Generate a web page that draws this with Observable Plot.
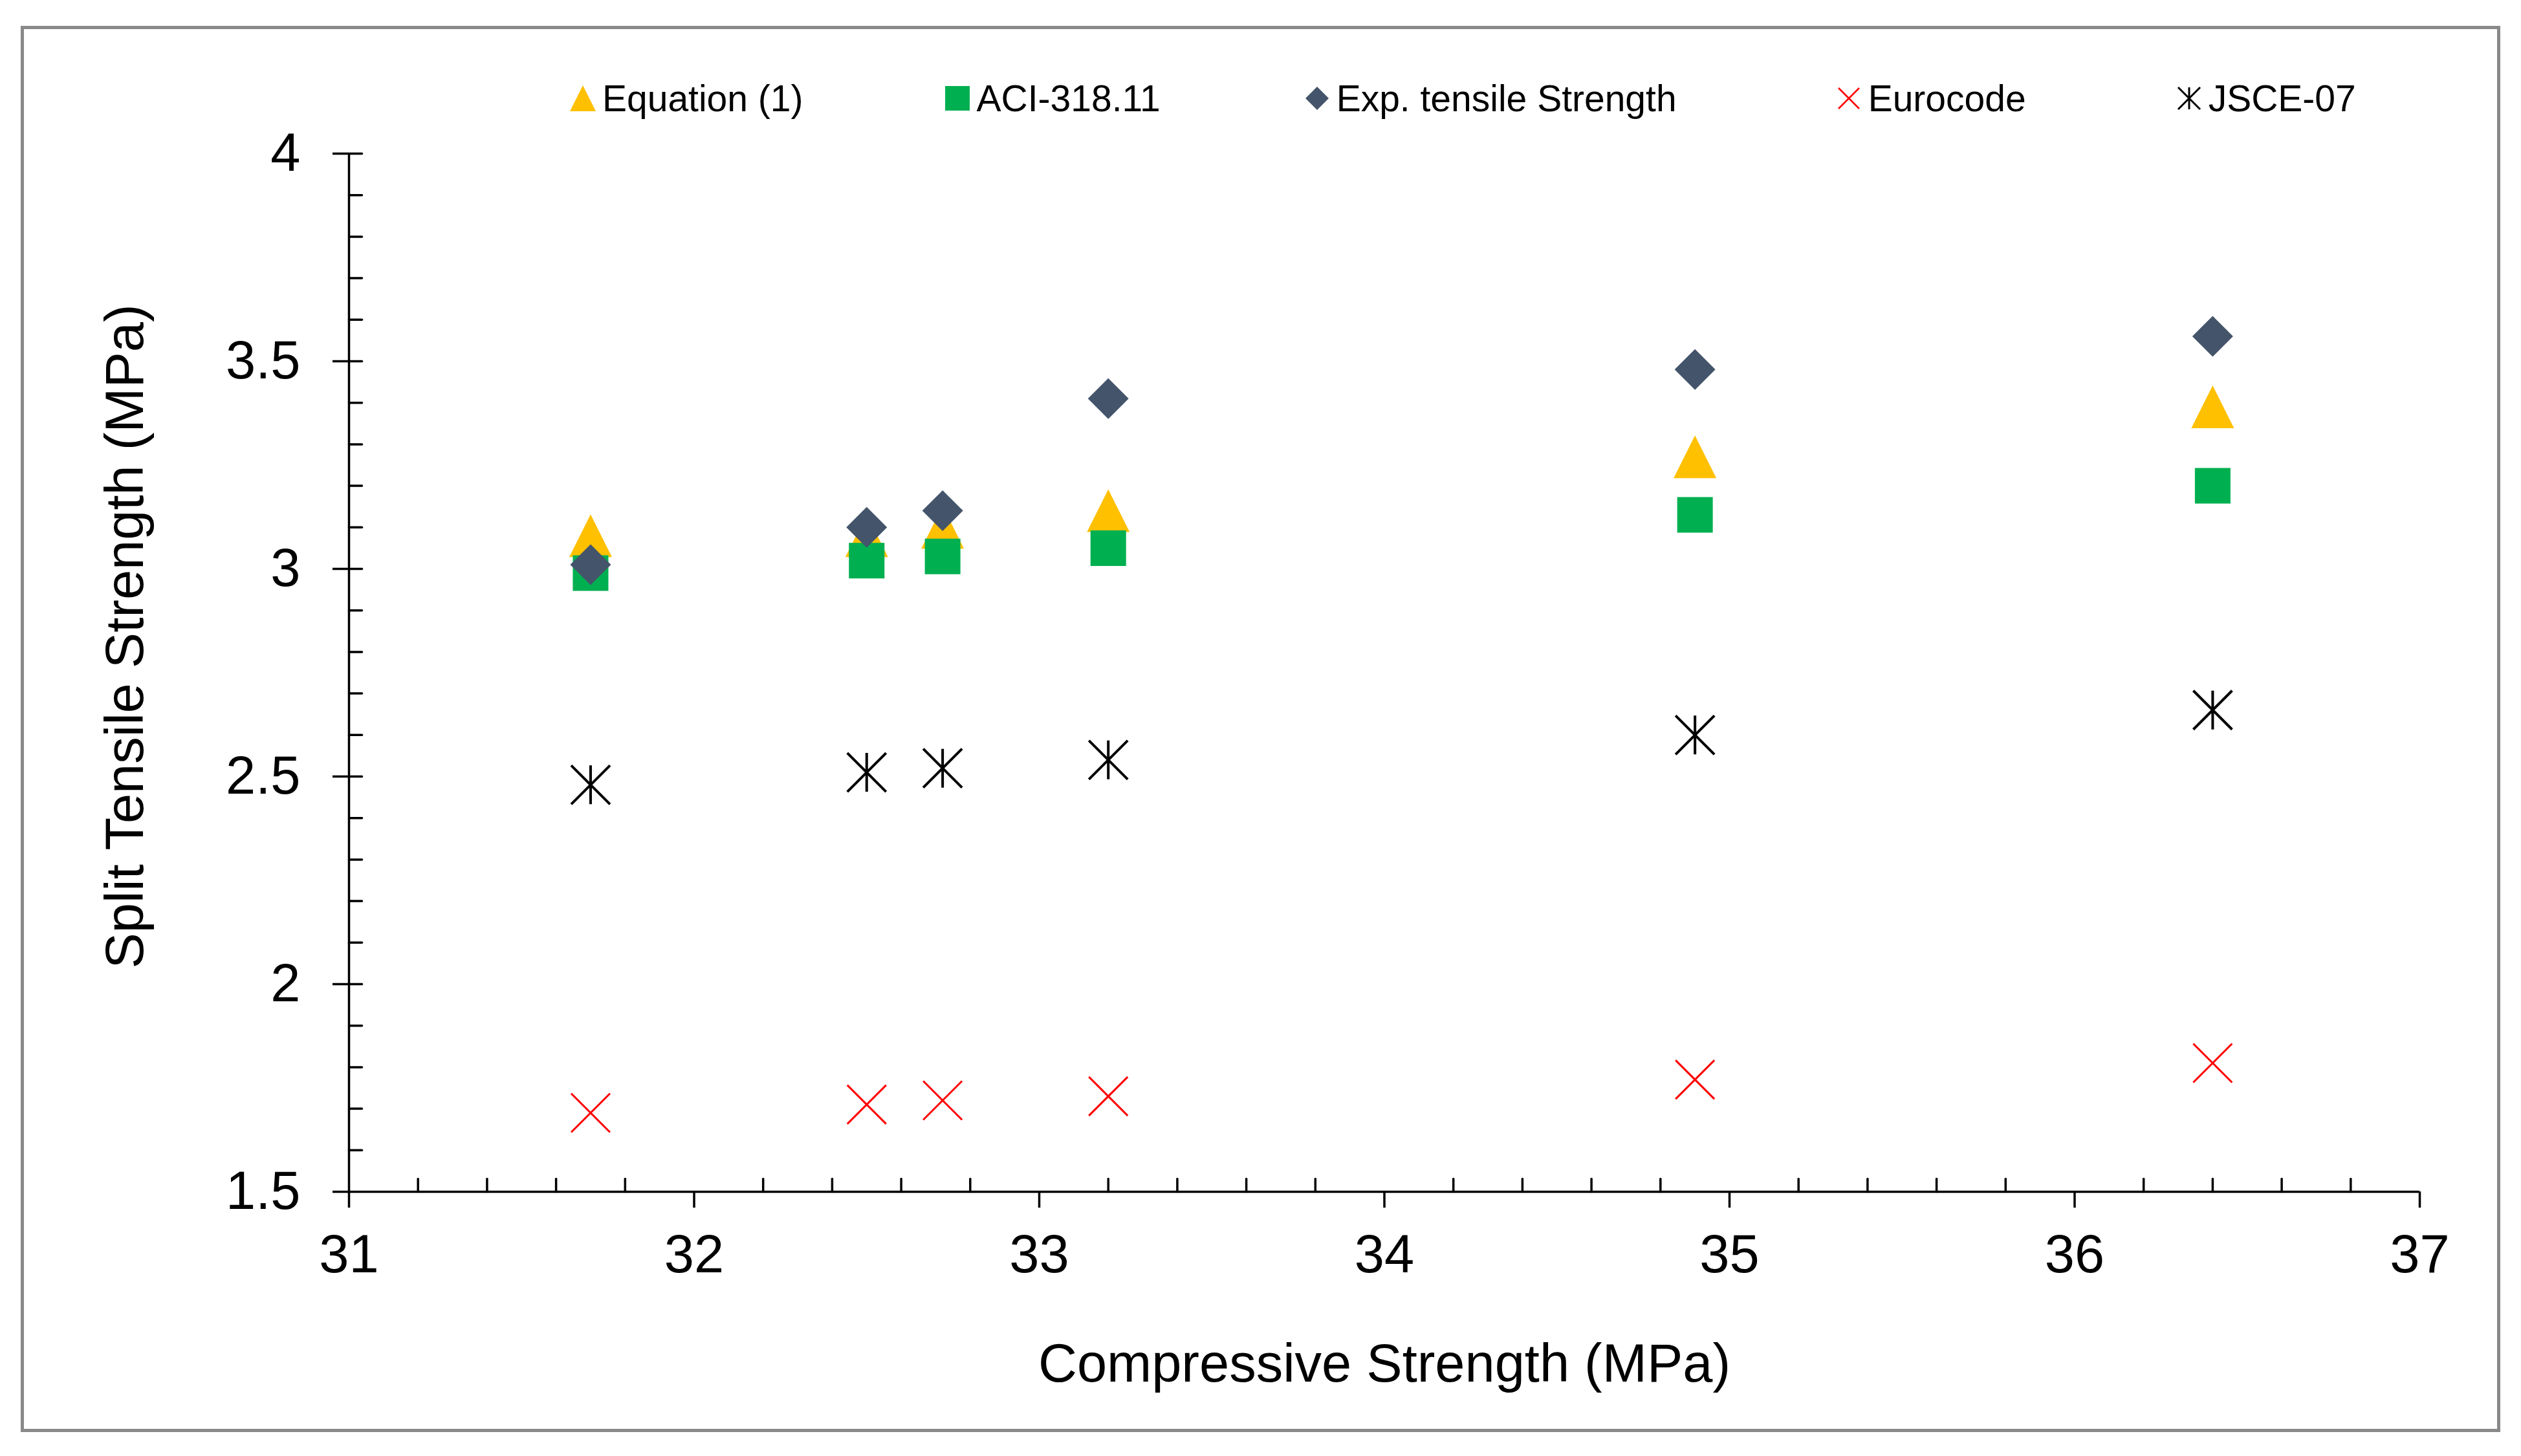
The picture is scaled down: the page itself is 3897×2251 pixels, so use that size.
<!DOCTYPE html>
<html>
<head>
<meta charset="utf-8">
<script src="https://cdn.jsdelivr.net/npm/d3@7"></script>
<script src="https://cdn.jsdelivr.net/npm/@observablehq/plot@0.6"></script>
<style>
  html, body { margin: 0; padding: 0; background: #fff; }
  #page { position: relative; width: 3897px; height: 2251px; font-family: "Liberation Sans", Arial, sans-serif; }
  #legend { display: flex; align-items: center; height: 60px; padding: 122px 0 0 881px; font-size: 57px; color: #000; }
  #legend .item { display: flex; align-items: center; }
  #legend svg { margin-right: 10px; overflow: visible; }
  #border { position: absolute; left: 32px; top: 40px; width: 3823px; height: 2164px; border: 5px solid #898989; pointer-events: none; }
</style>
</head>
<body>
<div id="page">
  <div id="legend"></div>
  <div id="chart"></div>
  <div id="border"></div>
</div>
<script>
// data
const compressive = [31.7, 32.5, 32.72, 33.2, 34.9, 36.4];
const equation1 = [3.08, 3.08, 3.10, 3.14, 3.27, 3.39];
const aci318 = [2.99, 3.02, 3.03, 3.05, 3.13, 3.20];
const expTensile = [3.01, 3.10, 3.14, 3.41, 3.48, 3.56];
const eurocode = [1.69, 1.71, 1.72, 1.73, 1.77, 1.81];
const jsce07 = [2.48, 2.51, 2.52, 2.54, 2.60, 2.66];

const seriesNames = ["Equation (1)", "ACI-318.11", "Exp. tensile Strength", "Eurocode", "JSCE-07"];
const xTicks = [31, 32, 33, 34, 35, 36, 37];
const yTicks = [1.5, 2, 2.5, 3, 3.5, 4];
const xTitle = "Compressive Strength (MPa)";
const yTitle = "Split Tensile Strength (MPa)";

// marker shapes (size = pi r^2 from Plot)
const rad = size => Math.sqrt(size / Math.PI);
const triangle = {draw(c, s) { const r = rad(s); c.moveTo(0, -r); c.lineTo(r, r); c.lineTo(-r, r); c.closePath(); }};
const square = {draw(c, s) { const r = rad(s); c.rect(-r, -r, 2 * r, 2 * r); }};
const diamond = {draw(c, s) { const r = rad(s); c.moveTo(0, -r); c.lineTo(r, 0); c.lineTo(0, r); c.lineTo(-r, 0); c.closePath(); }};
const cross = {draw(c, s) { const r = rad(s); c.moveTo(-r, -r); c.lineTo(r, r); c.moveTo(-r, r); c.lineTo(r, -r); }};
const star = {draw(c, s) { const r = rad(s); c.moveTo(-r, -r); c.lineTo(r, r); c.moveTo(-r, r); c.lineTo(r, -r); c.moveTo(0, -r); c.lineTo(0, r); }};

const styles = [
  {values: equation1, symbol: triangle, r: 33, fill: "#FFC000", lr: 20, gap: 0},
  {values: aci318, symbol: square, r: 27.5, fill: "#00B050", lr: 19, gap: 218},
  {values: expTensile, symbol: diamond, r: 31.5, fill: "#44546A", lr: 18, gap: 222},
  {values: eurocode, symbol: cross, r: 30, stroke: "#FF0000", sw: 3, lr: 16, lsw: 2.5, gap: 246},
  {values: jsce07, symbol: star, r: 30, stroke: "#000000", sw: 4, lr: 17, lsw: 3, gap: 232}
];

const rows = compressive.flatMap((x, i) => seriesNames.map((name, k) => ({series: name, x, y: styles[k].values[i]})));

// legend
const legend = document.getElementById("legend");
seriesNames.forEach((name, k) => {
  const st = styles[k];
  const p = d3.path();
  st.symbol.draw(p, Math.PI * st.lr * st.lr);
  const paint = st.fill ? `fill="${st.fill}"` : `fill="none" stroke="${st.stroke}" stroke-width="${st.lsw}"`;
  const item = document.createElement("div");
  item.className = "item";
  item.style.marginLeft = st.gap + "px";
  item.innerHTML = `<svg width="40" height="40" viewBox="-20 -20 40 40"><path d="${p}" ${paint}></path></svg><span>${name}</span>`;
  legend.appendChild(item);
});

const tickShape = {draw(c, l) { c.moveTo(0, 0); c.lineTo(0, -l); }};
const xMinor = d3.range(1, 30).filter(i => i % 5 !== 0).map(i => 31 + i * 0.2);
const yMinor = d3.range(1, 26).map(i => 1.5 + i * 0.1);

const dotMarks = seriesNames.map((name, k) => {
  const st = styles[k];
  return Plot.dot(rows.filter(d => d.series === name), {
    x: "x", y: "y", symbol: st.symbol, r: st.r,
    fill: st.fill || "none",
    stroke: st.stroke || "none",
    strokeWidth: st.sw || 0
  });
});

const chart = Plot.plot({
  width: 3897,
  height: 2069,
  marginLeft: 539,
  marginRight: 157,
  marginTop: 55,
  marginBottom: 409,
  x: {domain: [31, 37]},
  y: {domain: [1.5, 4]},
  style: {fontFamily: "'Liberation Sans', Arial, sans-serif", fontSize: "83px", color: "#000", background: "transparent", overflow: "visible"},
  marks: [
    Plot.ruleY([1.5], {stroke: "#000", strokeWidth: 3.5}),
    Plot.ruleX([31], {stroke: "#000", strokeWidth: 3.5}),
    Plot.axisX({ticks: xTicks, tickSize: 25, tickPadding: 41, strokeWidth: 3.5, tickFormat: d => String(d), label: null}),
    Plot.axisY({ticks: yTicks, tickSize: 25, tickPadding: 50, strokeWidth: 3.5, tickFormat: d => String(d), label: null}),
    Plot.vector(xMinor, {x: d => d, frameAnchor: "bottom", length: 20, anchor: "start", shape: tickShape, stroke: "#000", strokeWidth: 3.5}),
    Plot.vector(yMinor, {y: d => d, frameAnchor: "left", rotate: 90, length: 20, anchor: "start", shape: tickShape, stroke: "#000", strokeWidth: 3.5}),
    Plot.text([xTitle], {text: d => d, frameAnchor: "bottom", lineAnchor: "top", dy: 235, fontSize: 83}),
    Plot.text([yTitle], {text: d => d, frameAnchor: "left", textAnchor: "middle", rotate: -90, dx: -345, dy: -56, fontSize: 83}),
    ...dotMarks
  ]
});

document.getElementById("chart").appendChild(chart);
</script>
</body>
</html>
